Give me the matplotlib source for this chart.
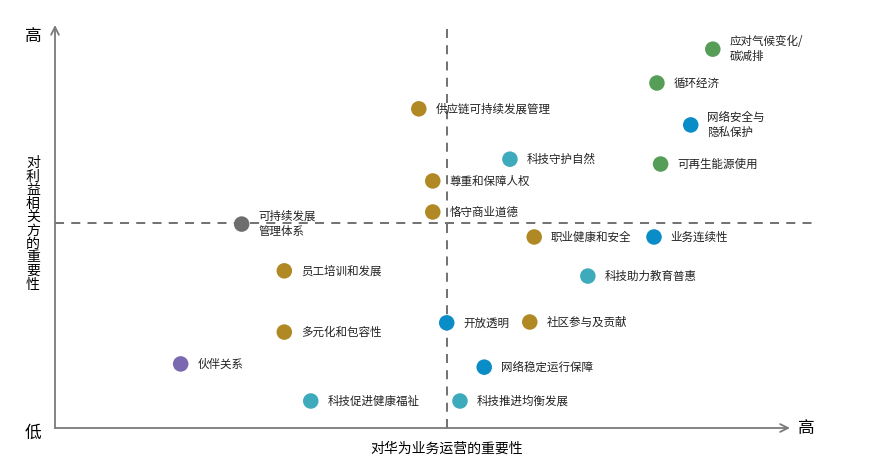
import matplotlib
matplotlib.use("Agg")
import matplotlib.pyplot as plt

plt.rcParams['font.family'] = ['Noto Sans CJK SC', 'DejaVu Sans']

# topics, importance to business (x) and to stakeholders (y), group
labels = ["应对气候变化/\n碳减排", "循环经济", "供应链可持续发展管理", "网络安全与\n隐私保护",
          "科技守护自然", "可再生能源使用", "尊重和保障人权", "恪守商业道德",
          "可持续发展\n管理体系", "职业健康和安全", "业务连续性", "员工培训和发展",
          "科技助力教育普惠", "开放透明", "社区参与及贡献", "多元化和包容性",
          "伙伴关系", "网络稳定运行保障", "科技促进健康福祉", "科技推进均衡发展"]
x_vals = [8.95, 8.19, 4.95, 8.65, 6.19, 8.24, 5.14, 5.14, 2.54, 6.52,
          8.15, 3.12, 7.25, 5.33, 6.46, 3.12, 1.71, 5.84, 3.48, 5.51]
y_vals = [9.40, 8.56, 7.92, 7.52, 6.67, 6.55, 6.13, 5.36, 5.06, 4.74,
          4.74, 3.90, 3.77, 2.61, 2.63, 2.38, 1.59, 1.51, 0.67, 0.67]
groups = ["env", "env", "gov", "net", "tech", "env", "gov", "gov", "mgmt", "gov",
          "net", "gov", "tech", "net", "gov", "gov", "partner", "net", "tech", "tech"]

colors = {"env": "#569e58", "net": "#0a8cc6", "tech": "#3dabbb",
          "gov": "#b08924", "mgmt": "#6e6e6e", "partner": "#7a69b0"}

x_split = 5.33
y_split = 5.09

fig = plt.figure(figsize=(8.87, 4.67), dpi=100)
ax = fig.add_axes([0.062, 0.0835, 0.8286, 0.863])
ax.set_xlim(0, 10)
ax.set_ylim(0, 10)
ax.axis("off")

axis_color = "#7a7a7a"
# axes with open arrow heads
ax.annotate("", xy=(0, 1.0), xytext=(0, 0), xycoords="axes fraction",
            arrowprops=dict(arrowstyle="->", color=axis_color, lw=1.3,
                            mutation_scale=14, shrinkA=0, shrinkB=0))
ax.annotate("", xy=(1.0, 0), xytext=(0, 0), xycoords="axes fraction",
            arrowprops=dict(arrowstyle="->", color=axis_color, lw=1.3,
                            mutation_scale=14, shrinkA=0, shrinkB=0))

# quadrant split lines
ax.plot([x_split, x_split], [0, 10], ls=(0, (5, 4)), color="#666666", lw=1.3)
ax.plot([0, 10.3], [y_split, y_split], ls=(0, (5, 4)), color="#666666", lw=1.3,
        clip_on=False)

for lab, x, y, g in zip(labels, x_vals, y_vals, groups):
    ax.scatter(x, y, s=125, color=colors[g], zorder=3, edgecolors="none")
    ax.annotate(lab, (x, y), xytext=(12, 0), textcoords="offset points",
                va="center", ha="left", fontsize=8.3, color="#222222",
                linespacing=1.2)

# axis annotations
fig.text(33 / 887, 1 - 37 / 467, "高", fontsize=12, ha="center", va="center")
fig.text(33 / 887, 1 - 433 / 467, "低", fontsize=12, ha="center", va="center")
fig.text(806 / 887, 1 - 428 / 467, "高", fontsize=12, ha="center", va="center")
fig.text(447 / 887, 1 - 449 / 467, "对华为业务运营的重要性", fontsize=10,
         ha="center", va="center")
fig.text(33 / 887, 1 - 224 / 467, "\n".join("对利益相关方的重要性"), fontsize=10,
         ha="center", va="center", linespacing=0.95)

fig.savefig("out.png", dpi=100)
